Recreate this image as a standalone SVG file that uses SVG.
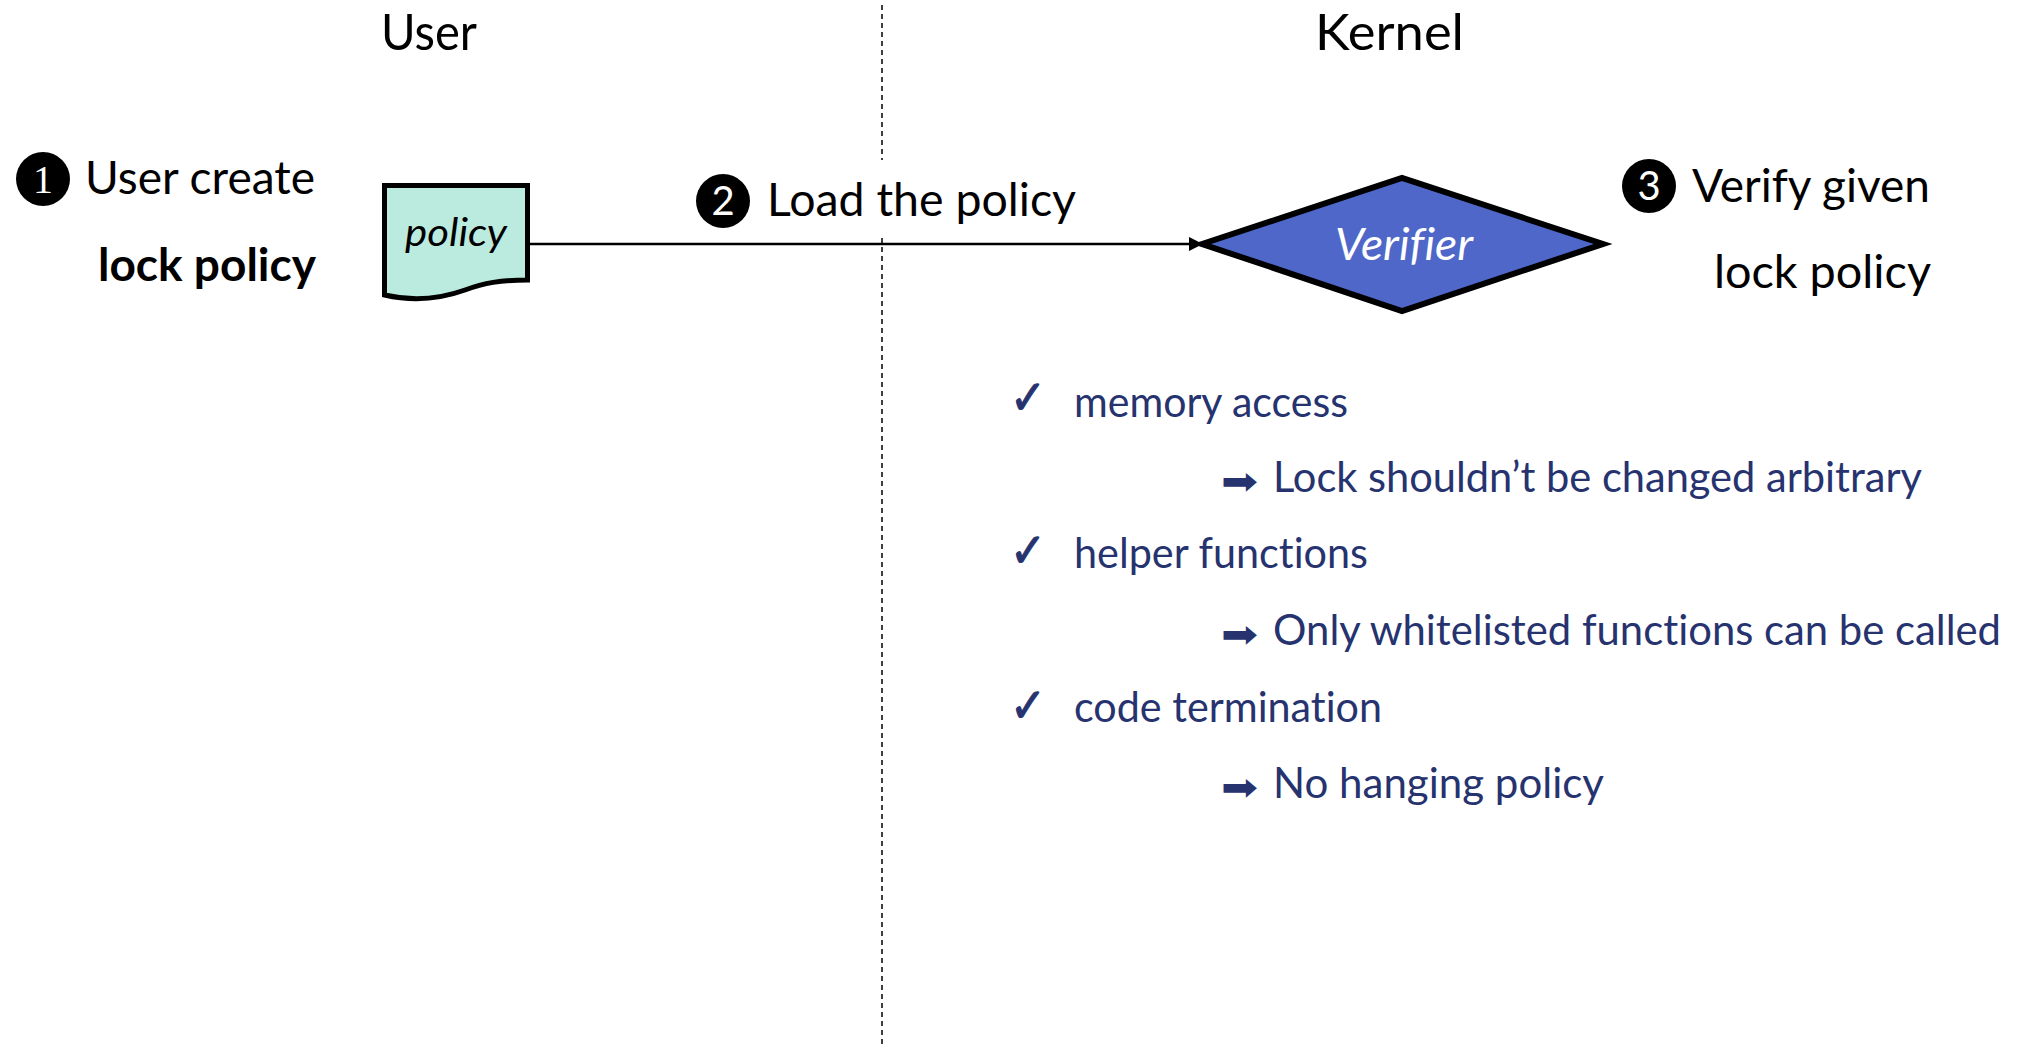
<svg xmlns="http://www.w3.org/2000/svg" width="2031" height="1045" viewBox="0 0 2031 1045">
  <style>
    text { font-family: Lato, "Noto Sans", "DejaVu Sans", sans-serif; fill: #000; font-variant-ligatures: none; font-feature-settings: "liga" 0, "clig" 0; }
    .title { font-size: 50px; }
    .label { font-size: 46px; }
    .bold { font-weight: bold; }
    .num { font-size: 40px; fill: #fff; text-anchor: middle; }
    .numserif { font-family: "Liberation Serif", serif; }
    .item { font-size: 42px; fill: #26336f; }
    .mark { font-family: "DejaVu Sans", sans-serif; fill: #26336f; }
    .check { font-size: 48px; stroke: #26336f; stroke-width: 1.2; }
    .arrow { font-size: 38px; }
    .divider { stroke: #000; stroke-width: 1.5; stroke-dasharray: 5 4; fill: none; }
    .edge { stroke: #000; stroke-width: 2.5; fill: none; }
  </style>
  <defs>
    <marker id="arrowhead" viewBox="0 0 14 14" refX="13" refY="7" markerWidth="14" markerHeight="14" markerUnits="userSpaceOnUse" orient="auto">
      <path d="M0,0 L14,7 L0,14 Z" fill="#000"/>
    </marker>
  </defs>

  <!-- user / kernel boundary -->
  <g id="boundary">
    <line class="divider" x1="882" y1="5" x2="882" y2="160"/>
    <line class="divider" x1="882" y1="238" x2="882" y2="1045"/>
    <text class="title" x="381" y="50" textLength="96" lengthAdjust="spacingAndGlyphs">User</text>
    <text class="title" x="1315" y="50" textLength="149" lengthAdjust="spacingAndGlyphs">Kernel</text>
  </g>

  <!-- step 1 -->
  <g id="step1">
    <circle cx="43" cy="179" r="27" fill="#000"/>
    <text class="num numserif" x="43" y="193">1</text>
    <text class="label" x="85" y="194" textLength="230" lengthAdjust="spacingAndGlyphs">User create</text>
    <text class="label bold" x="98" y="281" textLength="218" lengthAdjust="spacingAndGlyphs">lock policy</text>
  </g>

  <!-- policy document -->
  <g id="policy">
    <path d="M384.5,185.5 H527.5 V280 C500,280 484,283 465,290 C440,299 415,302 384.5,295 Z" fill="#bbebdf" stroke="#000" stroke-width="5" stroke-linejoin="miter"/>
    <text x="405" y="246" font-size="38" font-style="italic" textLength="102" lengthAdjust="spacingAndGlyphs">policy</text>
  </g>

  <!-- connectors -->
  <g id="connectors">
    <line class="edge" x1="530" y1="244" x2="1202" y2="244" marker-end="url(#arrowhead)"/>
  </g>

  <!-- step 2 -->
  <g id="step2">
    <circle cx="723" cy="201" r="27" fill="#000"/>
    <text class="num" x="723" y="215">2</text>
    <text class="label" x="767" y="216" textLength="309" lengthAdjust="spacingAndGlyphs">Load the policy</text>
  </g>

  <!-- verifier -->
  <g id="verifier">
    <polygon points="1202,244 1402,178 1603,244 1402,311" fill="#4e67c8" stroke="#000" stroke-width="6" stroke-linejoin="miter"/>
    <text x="1335" y="260" font-size="45" font-style="italic" fill="#fff" style="fill:#fff" textLength="138" lengthAdjust="spacingAndGlyphs">Verifier</text>
  </g>

  <!-- step 3 -->
  <g id="step3">
    <circle cx="1649" cy="186" r="27" fill="#000"/>
    <text class="num" x="1649" y="200">3</text>
    <text class="label" x="1692" y="202" textLength="238" lengthAdjust="spacingAndGlyphs">Verify given</text>
    <text class="label" x="1714" y="288" textLength="217" lengthAdjust="spacingAndGlyphs">lock policy</text>
  </g>

  <!-- verification checks -->
  <g id="checks">
    <text class="mark check" x="1010" y="414" textLength="36" lengthAdjust="spacingAndGlyphs">✓</text>
    <text class="item" x="1074" y="417" textLength="274" lengthAdjust="spacingAndGlyphs">memory access</text>
    <text class="mark arrow" x="1221" y="494" textLength="37" lengthAdjust="spacingAndGlyphs">➡</text>
    <text class="item" x="1273" y="492" textLength="649" lengthAdjust="spacingAndGlyphs">Lock shouldn’t be changed arbitrary</text>

    <text class="mark check" x="1010" y="567" textLength="36" lengthAdjust="spacingAndGlyphs">✓</text>
    <text class="item" x="1074" y="568" textLength="294" lengthAdjust="spacingAndGlyphs">helper functions</text>
    <text class="mark arrow" x="1221" y="647" textLength="37" lengthAdjust="spacingAndGlyphs">➡</text>
    <text class="item" x="1273" y="645" textLength="728" lengthAdjust="spacingAndGlyphs">Only whitelisted functions can be called</text>

    <text class="mark check" x="1010" y="722" textLength="36" lengthAdjust="spacingAndGlyphs">✓</text>
    <text class="item" x="1074" y="722" textLength="308" lengthAdjust="spacingAndGlyphs">code termination</text>
    <text class="mark arrow" x="1221" y="800" textLength="37" lengthAdjust="spacingAndGlyphs">➡</text>
    <text class="item" x="1273" y="798" textLength="331" lengthAdjust="spacingAndGlyphs">No hanging policy</text>
  </g>
</svg>
